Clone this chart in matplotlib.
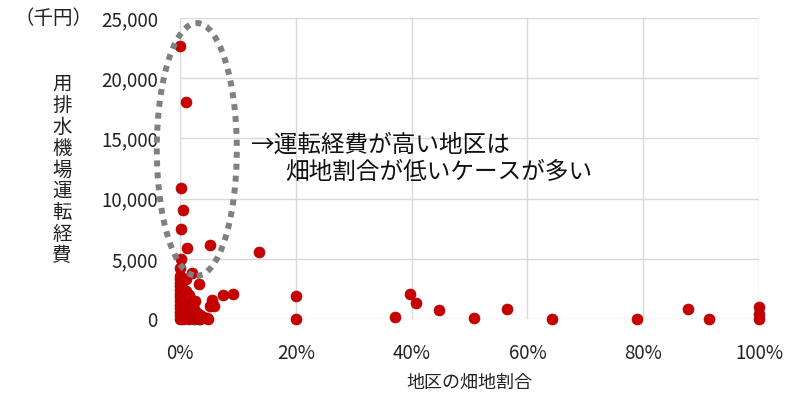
import matplotlib
matplotlib.use("Agg")
import matplotlib.pyplot as plt
from matplotlib.patches import Ellipse
from matplotlib.ticker import FuncFormatter

plt.rcParams['font.family'] = ['Noto Sans CJK JP', 'DejaVu Sans']

# 畑地割合 (fraction) and 用排水機場運転経費 (千円)
farm_share = [
    0.000, 0.000, 0.000, 0.000, 0.000, 0.000, 0.000, 0.000, 0.000, 0.000,
    0.000, 0.000, 0.000, 0.000, 0.001, 0.001, 0.001, 0.000,
    0.005, 0.005, 0.005, 0.005, 0.005, 0.005, 0.005, 0.005, 0.005,
    0.010, 0.010, 0.010, 0.010, 0.010, 0.010, 0.012, 0.010,
    0.015, 0.015, 0.015, 0.015, 0.015,
    0.020, 0.020, 0.020, 0.020,
    0.025, 0.025, 0.025, 0.026,
    0.030, 0.030, 0.032, 0.032,
    0.035, 0.035, 0.040, 0.047, 0.049,
    0.052, 0.052, 0.055, 0.058, 0.074, 0.091, 0.136,
    0.200, 0.200, 0.371, 0.397, 0.407, 0.447, 0.507, 0.565,
    0.643, 0.789, 0.877, 0.914, 1.000, 1.000, 1.000,
]
cost = [
    0, 300, 600, 900, 1200, 1500, 1800, 2100, 2400, 2700,
    3000, 3300, 3600, 4250, 5000, 7500, 10900, 22650,
    0, 400, 800, 1200, 1600, 2000, 2500, 3275, 9050,
    100, 500, 1000, 1500, 2300, 3300, 5900, 18050,
    0, 300, 700, 1400, 2000,
    200, 600, 1100, 3830,
    0, 400, 800, 1470,
    100, 500, 2900, 0,
    0, 300, 150, 100, 0,
    1050, 6150, 1600, 1050, 2000, 2100, 5600,
    1900, 0, 170, 2100, 1350, 720, 80, 830,
    30, 0, 860, 0, 1000, 450, 0,
]

x_ticks = [0, 0.2, 0.4, 0.6, 0.8, 1.0]
y_ticks = [0, 5000, 10000, 15000, 20000, 25000]

fig = plt.figure(figsize=(8.07, 3.94), dpi=100)
ax = fig.add_axes([180/807, 1 - 319/394, (759 - 180)/807, (319 - 18)/394])

ax.set_xlim(0, 1)
ax.set_ylim(0, 25000)
ax.set_xticks(x_ticks)
ax.set_yticks(y_ticks)
ax.xaxis.set_major_formatter(FuncFormatter(lambda v, p: f"{v*100:.0f}%"))
ax.yaxis.set_major_formatter(FuncFormatter(lambda v, p: f"{v:,.0f}"))
ax.grid(True, color='#d9d9d9', linewidth=1.0)
ax.set_axisbelow(True)
for s in ax.spines.values():
    s.set_visible(False)
ax.tick_params(length=0, labelsize=13.5, colors='#222222')
ax.tick_params(axis='y', pad=16)
ax.tick_params(axis='x', pad=17)

ax.scatter(farm_share, cost, s=62, color='#c80000', edgecolors='#b00000',
           linewidths=0.5, zorder=3, clip_on=False)

ell = Ellipse((0.029, 14080), width=80/579, height=252/60*5000, fill=False,
              edgecolor='#808080', linewidth=4.3, linestyle=(0, (1, 1)),
              zorder=4, clip_on=False)
ax.add_patch(ell)

fig.text(469/807, 1 - 383/394, '地区の畑地割合', fontsize=13, color='#222222',
         ha='center', va='center')

fig.text(14/807, 1 - 18/394, '（千円）', fontsize=14, ha='left', va='center', color='#222222')
fig.text(62/807, 1 - 170/394, '\n'.join('用排水機場運転経費'), fontsize=14,
         ha='center', va='center', linespacing=1.03, color='#222222')

fig.text(250/807, 1 - 145/394, '→運転経費が高い地区は', fontsize=17,
         ha='left', va='center', color='#111111')
fig.text(285/807, 1 - 172/394, '畑地割合が低いケースが多い', fontsize=17,
         ha='left', va='center', color='#111111')

fig.savefig('out.png', dpi=100, facecolor='white')
